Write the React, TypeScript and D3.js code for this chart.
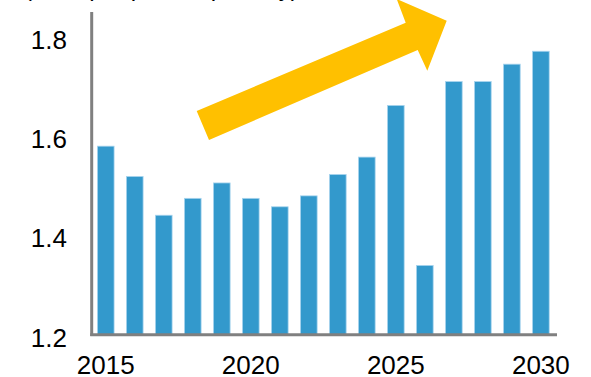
import React from "react";
import * as d3 from "d3";

const years = ["2015","2016","2017","2018","2019","2020","2021","2022","2023","2024","2025","2026","2027","2028","2029","2030"];
const values = [1.580,1.519,1.441,1.475,1.506,1.475,1.458,1.480,1.523,1.558,1.662,1.340,1.710,1.710,1.745,1.771];
const yTicks = [1.2,1.4,1.6,1.8];
const xTickLabels = ["2015","2020","2025","2030"];
const unitLabel = "(liters per person per day)";

const W = 591, H = 377;

export default function App() {
  const x = d3.scaleBand<string>().domain(years).range([91.6, 555]).paddingInner(0.425).paddingOuter(0.2);
  const y = d3.scaleLinear().domain([1.2, 1.85]).range([335, 12]);
  const font = "'Liberation Sans', Arial, sans-serif";
  const arrow: [number, number][] = [
    [196.7, 111], [405.7, 22.7], [396.7, -1], [446.7, 20.7], [427.3, 70.7], [417.7, 50], [209, 140],
  ];
  const arrowPath = d3.line()(arrow) + "Z";
  return (
    <svg width={W} height={H} style={{ position: "absolute", left: 0, top: 0 }} fontFamily={font}>
      <rect width={W} height={H} fill="#ffffff" />
      <text x={24} y={-4} fontSize={24} fill="#000">{unitLabel}</text>
      {years.map((yr, i) => (
        <rect key={yr} x={x(yr)} y={y(values[i])} width={x.bandwidth()} height={y(1.2) - y(values[i])}
          fill="#3399cc" stroke="#a8d4ee" strokeWidth={0.8} />
      ))}
      <path d={arrowPath} fill="#ffc000" />
      <line x1={91.7} x2={91.7} y1={12} y2={336} stroke="#808080" strokeWidth={3} />
      <line x1={90.2} x2={557} y1={334.7} y2={334.7} stroke="#808080" strokeWidth={3} />
      {yTicks.map(t => (
        <text key={t} x={67} y={y(t) + 11.8} textAnchor="end" fontSize={26} fill="#000">{t.toFixed(1)}</text>
      ))}
      {xTickLabels.map(l => (
        <text key={l} x={(x(l) as number) + x.bandwidth() / 2} y={373.5} textAnchor="middle" fontSize={26} fill="#000">{l}</text>
      ))}
    </svg>
  );
}
